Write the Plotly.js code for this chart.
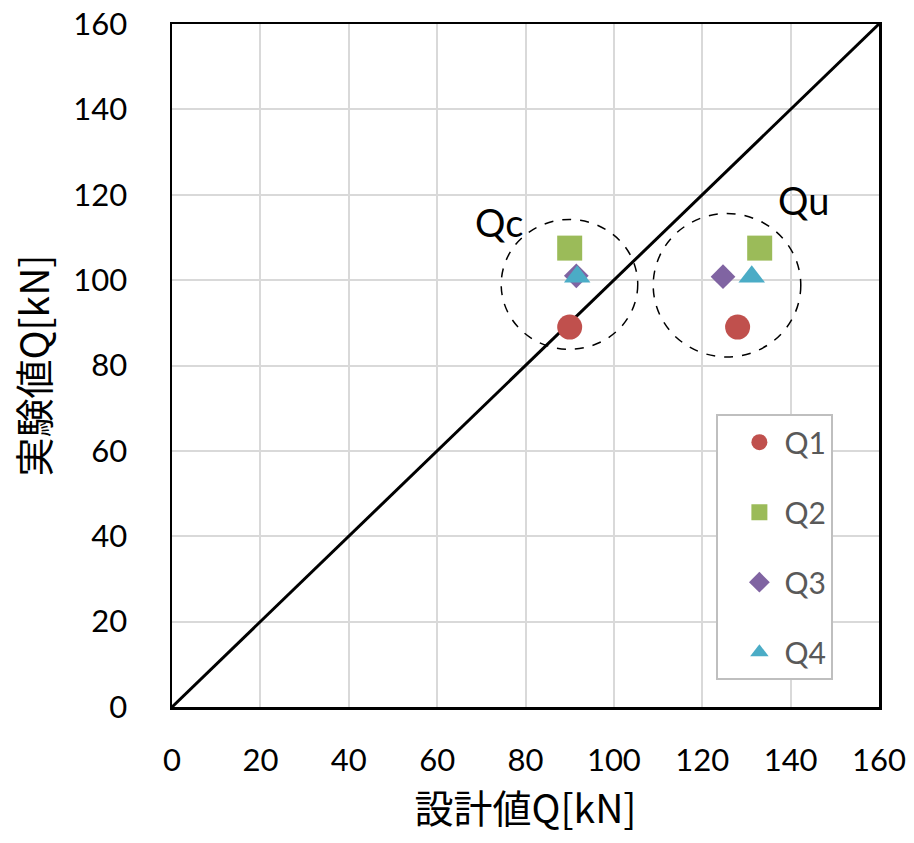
<!DOCTYPE html>
<html>
<head>
<meta charset="utf-8">
<script src="https://cdn.plot.ly/plotly-3.0.1.min.js"></script>
<style>
  html, body { margin: 0; padding: 0; background: #fff; }
  #chart { width: 914px; height: 843px; }
</style>
</head>
<body>
<div id="chart"></div>
<script>
// Design value (x) vs. test value (y) for Qc and Qu, series Q1..Q4
const seriesNames = ['Q1', 'Q2', 'Q3', 'Q4'];
const q1Design = [90, 128];
const q1Test   = [89, 89];
const q2Design = [90, 133];
const q2Test   = [107.5, 107.5];
const q3Design = [91.5, 124.7];
const q3Test   = [101, 100.8];
const q4Design = [91.7, 131.2];
const q4Test   = [100.8, 100.8];

// 1:1 reference line
const refX = [0, 160];
const refY = [0, 160];

const tickVals = [0, 20, 40, 60, 80, 100, 120, 140, 160];

const colors  = ['#c0504d', '#9bbb59', '#8064a2', '#4bacc6'];
const symbols = ['circle', 'square', 'diamond', 'triangle-up'];
const sizes   = [25, 25, 19, 23];
const xs = [q1Design, q2Design, q3Design, q4Design];
const ys = [q1Test, q2Test, q3Test, q4Test];

const traces = [{
  x: refX, y: refY, mode: 'lines', showlegend: false, hoverinfo: 'skip',
  line: { color: '#000', width: 3 }
}];
seriesNames.forEach((name, i) => {
  traces.push({
    x: xs[i], y: ys[i], name: name, mode: 'markers', legendgroup: name,
    marker: { symbol: symbols[i], size: sizes[i], color: colors[i], line: { width: 0 } }
  });
});

const labelFont = 'Lato, "Noto Sans", sans-serif';
const cjkFont = '"Noto Sans CJK JP", sans-serif';

const axisCommon = {
  range: [0, 160], tickvals: tickVals, ticktext: tickVals.map(String),
  showgrid: true, gridcolor: '#d9d9d9', gridwidth: 2,
  zeroline: false, showline: true, linecolor: '#000', linewidth: 2.5, mirror: true,
  ticks: 'outside', tickcolor: 'rgba(0,0,0,0)',
  tickfont: { family: labelFont, size: 31, color: '#000' }
};

const layout = {
  width: 914, height: 843,
  margin: { l: 172, r: 35, t: 24, b: 136 },
  paper_bgcolor: '#fff', plot_bgcolor: '#fff',
  xaxis: Object.assign({}, axisCommon, {
    ticklen: 24,
    title: { text: '設計値Q[kN]', standoff: 16,
      font: { family: cjkFont, size: 39, color: '#000' } }
  }),
  yaxis: Object.assign({}, axisCommon, {
    ticklen: 36,
    title: { text: '実験値Q[kN]', standoff: 12,
      font: { family: cjkFont, size: 39, color: '#000' } }
  }),
  legend: {
    x: 0.770, y: 0.4287, xanchor: 'left', yanchor: 'top',
    bgcolor: '#fff', bordercolor: '#bfbfbf', borderwidth: 2,
    font: { family: labelFont, size: 30, color: '#595959' },
    tracegroupgap: 28, indentation: 16, itemwidth: 40
  },
  shapes: [
    { type: 'circle', xref: 'x', yref: 'y', x0: 74.5, x1: 105.4, y0: 83.8, y1: 114.2,
      line: { color: '#000', width: 1.5, dash: 'dash' } },
    { type: 'circle', xref: 'x', yref: 'y', x0: 108.9, x1: 142.3, y0: 82.0, y1: 115.6,
      line: { color: '#000', width: 1.5, dash: 'dash' } }
  ],
  annotations: [
    { text: 'Qc', x: 74.1, y: 113.6, xref: 'x', yref: 'y', showarrow: false,
      font: { family: labelFont, size: 38, color: '#000' } },
    { text: 'Qu', x: 143, y: 118.7, xref: 'x', yref: 'y', showarrow: false,
      font: { family: labelFont, size: 38, color: '#000' } }
  ]
};

Plotly.newPlot('chart', traces, layout, { displayModeBar: false, staticPlot: true });
</script>
</body>
</html>
